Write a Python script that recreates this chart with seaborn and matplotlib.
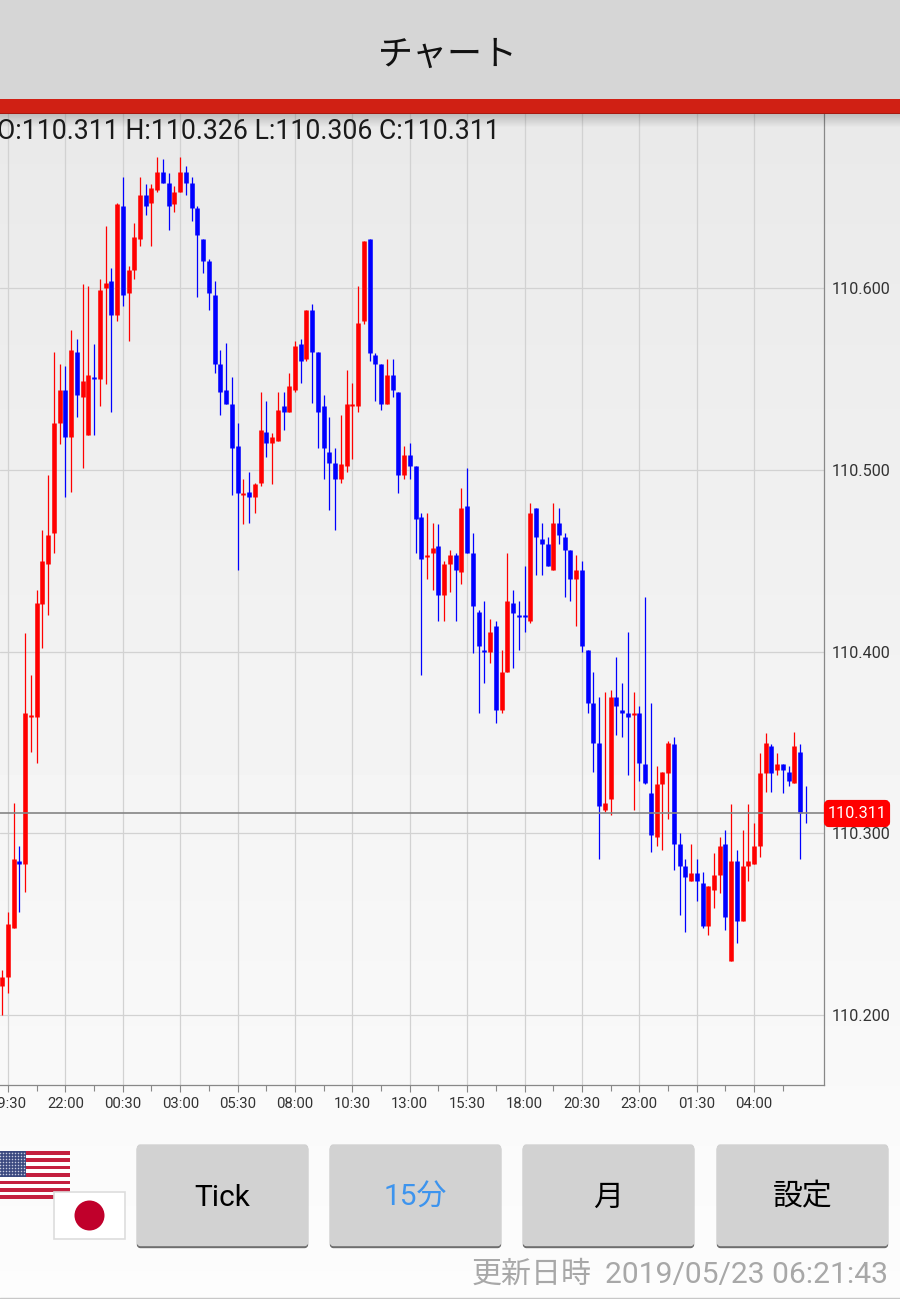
import numpy as np
import pandas as pd
import seaborn as sns
import matplotlib
matplotlib.use("Agg")
import matplotlib.pyplot as plt
from matplotlib.patches import FancyBboxPatch, Rectangle, Circle

# 15 minute candles, in points above 110.000
opens = [216, 221, 248, 285, 283, 364, 364, 426, 448, 465, 526, 544, 518, 565, 540, 519, 551, 550, 600, 604,
         585, 645, 597, 610, 627, 651, 647, 654, 664, 658, 646, 653, 664, 658, 644, 627, 615, 596, 558, 544,
         536, 513, 486, 488, 485, 493, 521, 515, 516, 535, 532, 544, 569, 561, 588, 565, 535, 510, 504, 495,
         502, 535, 535, 582, 627, 563, 558, 536, 552, 543, 497, 508, 502, 474, 452, 454, 458, 431, 448, 453,
         444, 480, 454, 422, 401, 400, 414, 368, 389, 427, 420, 420, 417, 479, 462, 459, 445, 471, 463, 456,
         440, 445, 401, 372, 350, 313, 319, 375, 368, 366, 365, 366, 338, 322, 298, 327, 333, 349, 294, 282,
         274, 278, 273, 249, 269, 277, 294, 230, 285, 252, 282, 283, 293, 333, 348, 335, 338, 334, 328, 345, 311]
closes = [221, 250, 286, 283, 366, 365, 427, 450, 464, 526, 544, 518, 566, 541, 549, 552, 550, 599, 603, 585,
          646, 596, 610, 628, 651, 645, 655, 664, 658, 645, 653, 664, 658, 644, 629, 615, 597, 558, 543, 536,
          512, 487, 487, 485, 492, 522, 515, 518, 533, 532, 546, 568, 560, 588, 565, 532, 512, 504, 495, 503,
          536, 536, 581, 626, 564, 558, 536, 552, 544, 497, 508, 502, 473, 451, 453, 457, 431, 448, 453, 445,
          479, 454, 425, 403, 400, 411, 368, 389, 428, 421, 419, 419, 476, 463, 459, 447, 471, 464, 456, 440,
          445, 403, 372, 350, 315, 317, 375, 370, 366, 364, 366, 339, 328, 299, 327, 334, 350, 294, 282, 276,
          278, 274, 249, 271, 277, 293, 254, 285, 252, 282, 285, 293, 333, 350, 333, 338, 335, 329, 348, 311, 311]
highs = [225, 257, 317, 293, 410, 387, 434, 467, 497, 565, 558, 557, 577, 572, 602, 601, 569, 605, 634, 611,
         647, 661, 612, 636, 661, 657, 657, 672, 671, 663, 656, 672, 667, 661, 645, 627, 616, 604, 566, 570,
         551, 526, 495, 499, 493, 543, 538, 520, 543, 543, 553, 571, 572, 588, 591, 565, 541, 529, 512, 530,
         555, 548, 601, 626, 627, 564, 558, 561, 561, 543, 513, 515, 502, 476, 476, 471, 470, 450, 456, 454,
         490, 501, 465, 423, 428, 418, 417, 401, 454, 434, 428, 447, 482, 479, 471, 463, 482, 479, 465, 456,
         453, 450, 401, 389, 375, 378, 379, 397, 383, 411, 378, 370, 430, 372, 337, 334, 351, 353, 300, 286,
         294, 286, 279, 271, 289, 298, 302, 316, 291, 302, 316, 306, 344, 355, 349, 344, 338, 337, 356, 349, 326]
lows = [200, 212, 248, 257, 268, 345, 339, 402, 420, 454, 514, 485, 488, 529, 501, 519, 519, 535, 547, 532,
        582, 590, 571, 605, 623, 640, 623, 653, 658, 632, 642, 653, 651, 637, 595, 608, 588, 553, 530, 536,
        486, 445, 470, 471, 476, 491, 507, 492, 516, 522, 532, 543, 548, 560, 537, 512, 495, 478, 467, 493,
        499, 506, 532, 580, 560, 538, 533, 536, 540, 487, 495, 495, 454, 387, 440, 434, 417, 417, 433, 417,
        437, 454, 399, 366, 383, 394, 361, 366, 389, 391, 401, 411, 416, 442, 442, 447, 445, 459, 430, 428,
        414, 400, 366, 334, 286, 312, 310, 354, 353, 332, 313, 329, 327, 290, 293, 291, 308, 280, 255, 246,
        274, 263, 248, 244, 259, 267, 247, 230, 240, 252, 274, 283, 287, 323, 323, 332, 322, 326, 328, 286, 306]

time_labels = ["19:30", "22:00", "00:30", "03:00", "05:30", "08:00", "10:30",
               "13:00", "15:30", "18:00", "20:30", "23:00", "01:30", "04:00"]
major_prices = [110.2, 110.3, 110.4, 110.5, 110.6]
minor_prices = [110.25, 110.35, 110.45, 110.55, 110.65]
last_price = 110.311
quote_text = "O:110.311 H:110.326 L:110.306 C:110.311"
button_labels = ["Tick", "15分", "月", "設定"]
update_label = "更新日時"
update_time = "2019/05/23 06:21:43"

sns.set_style("whitegrid")
plt.rcParams["font.family"] = ["Roboto", "Noto Sans CJK JP", "DejaVu Sans"]

df = pd.DataFrame({"open": opens, "close": closes, "high": highs, "low": lows})
df[["open", "close", "high", "low"]] = 110 + df[["open", "close", "high", "low"]] / 1000
df["k"] = np.arange(len(df))
df["dir"] = np.where(df["close"] > df["open"], "up", "down")

wicks = df.melt(id_vars=["k", "dir"], value_vars=["high", "low"], value_name="price")
bodies = df.melt(id_vars=["k", "dir"], value_vars=["open", "close"], value_name="price")
colors = {"up": "#ff0000", "down": "#0000ff"}

fig = plt.figure(figsize=(9, 12.99), dpi=100, facecolor="#fbfbfb")

# page background runs under the chart and the price scale
bg = fig.add_axes([0, 0, 1, 1], zorder=0)
bg.imshow(np.linspace(0.915, 0.99, 256).reshape(-1, 1), cmap="gray", vmin=0, vmax=1, aspect="auto",
          extent=(0, 900, 1299, 113))
bg.set_xlim(0, 900)
bg.set_ylim(1299, 0)
bg.axis("off")

ax = fig.add_axes([0, (1299 - 1085) / 1299, 823.5 / 900, (1085 - 113) / 1299], zorder=1)
ax.set_facecolor("none")

sns.lineplot(data=wicks, x="k", y="price", hue="dir", units="k", estimator=None, sort=False,
             palette=colors, linewidth=0.9, legend=False, ax=ax, solid_capstyle="butt")
sns.lineplot(data=bodies, x="k", y="price", hue="dir", units="k", estimator=None, sort=False,
             palette=colors, linewidth=3.3, legend=False, ax=ax, solid_capstyle="butt")

ax.axhline(last_price, color="#858585", linewidth=1.2, zorder=5)

ax.set_xlim(-0.394, 143.08)
ax.set_ylim(110.16165, 110.69625)
ax.set_xlabel("")
ax.set_ylabel("")
ax.set_axisbelow(True)

ax.set_xticks(np.arange(1, 141, 10), time_labels)
ax.set_xticks(np.arange(6, 141, 10), minor=True)
ax.set_yticks(major_prices, [f"{p:.3f}" for p in major_prices])
ax.set_yticks(minor_prices, minor=True)
ax.yaxis.tick_right()
ax.grid(True, which="major", color="#d2d2d2", linewidth=0.9)
ax.grid(False, which="minor")
ax.tick_params(axis="x", which="major", length=5, width=0.8, color="#888888", labelcolor="#333333",
               labelsize=10.7, pad=3.5, bottom=True)
ax.tick_params(axis="x", which="minor", length=4, width=0.8, color="#888888", bottom=True)
ax.tick_params(axis="y", which="major", length=5, width=0.8, color="#888888", labelcolor="#333333",
               labelsize=11.7, pad=1, right=True, left=False)
ax.tick_params(axis="y", which="minor", length=5, width=0.8, color="#888888", right=True, left=False)
sns.despine(ax=ax, left=True, top=True, right=False, bottom=False)
for side in ["right", "bottom"]:
    ax.spines[side].set_color("#888888")
    ax.spines[side].set_linewidth(0.9)

# everything outside the chart, in pixels
ui = fig.add_axes([0, 0, 1, 1], facecolor="none", zorder=2)

ui.add_patch(Rectangle((0, 0), 900, 99, color="#d6d6d6", lw=0))
ui.add_patch(Rectangle((0, 99), 900, 15, color="#d02014", lw=0))
shadow = np.zeros((16, 1, 4))
shadow[:, :, 3] = np.linspace(0.2, 0, 16).reshape(-1, 1)
ui.imshow(shadow, aspect="auto", extent=(0, 900, 128, 113), zorder=1)
ui.set_xlim(0, 900)
ui.set_ylim(1299, 0)
ui.axis("off")

ui.text(448, 55, "チャート", ha="center", va="center", fontsize=25.2, color="#111111",
        family=["Noto Sans CJK JP", "DejaVu Sans"])
ui.text(-3, 131, quote_text, ha="left", va="center", fontsize=19.2, color="#1a1a1a", clip_on=False)

# last price tag
ui.add_patch(FancyBboxPatch((826, 802), 62, 23, boxstyle="round,pad=0,rounding_size=3",
                            fc="#ff0000", ec="#ff0000", lw=3))
ui.text(857, 813.5, f"{last_price:.3f}", ha="center", va="center", fontsize=11.7, color="white")

# buttons
button_left = [135.5, 328.5, 521.5, 715.5]
button_colors = ["#000000", "#3d94ee", "#000000", "#000000"]
for left, label, col in zip(button_left, button_labels, button_colors):
    ui.add_patch(FancyBboxPatch((left + 2, 1146), 170, 101.5, boxstyle="round,pad=0,rounding_size=3",
                                fc="#6e6e6e", ec="#6e6e6e", lw=1))
    ui.add_patch(FancyBboxPatch((left + 2, 1145), 170, 100.5, boxstyle="round,pad=0,rounding_size=3",
                                fc="#d2d2d2", ec="#d2d2d2", lw=1))
    ui.text(left + 87, 1197.5, label, ha="center", va="center", fontsize=21.5, color=col)

# flags
ui.add_patch(Rectangle((-2, 1151), 72, 48, fc="white", lw=0))
for i in range(0, 13, 2):
    ui.add_patch(Rectangle((-2, 1151 + i * 48 / 13), 72, 48 / 13, fc="#c4203f", lw=0))
ui.add_patch(Rectangle((-2, 1151), 28, 26, fc="#3c4a80", lw=0))
star_x, star_y = np.meshgrid(np.arange(0, 26, 3), np.arange(1153, 1177, 3))
ui.scatter(star_x.ravel(), star_y.ravel(), s=1.2, c="#c8cce0", linewidths=0, zorder=3)
ui.add_patch(Rectangle((54, 1192), 71, 47, fc="white", ec="#dddddd", lw=1.2))
ui.add_patch(Circle((89.5, 1215.5), 15, fc="#c0002b", lw=0))

ui.text(888, 1275, update_time, ha="right", va="center", fontsize=21.6, color="#a8a8a8")
ui.text(592, 1275, update_label, ha="right", va="center", fontsize=21.6, color="#a8a8a8")
ui.plot([0, 900], [1298, 1298], color="#c8c8c8", linewidth=1)

fig.savefig("out.png", dpi=100, facecolor=fig.get_facecolor())
